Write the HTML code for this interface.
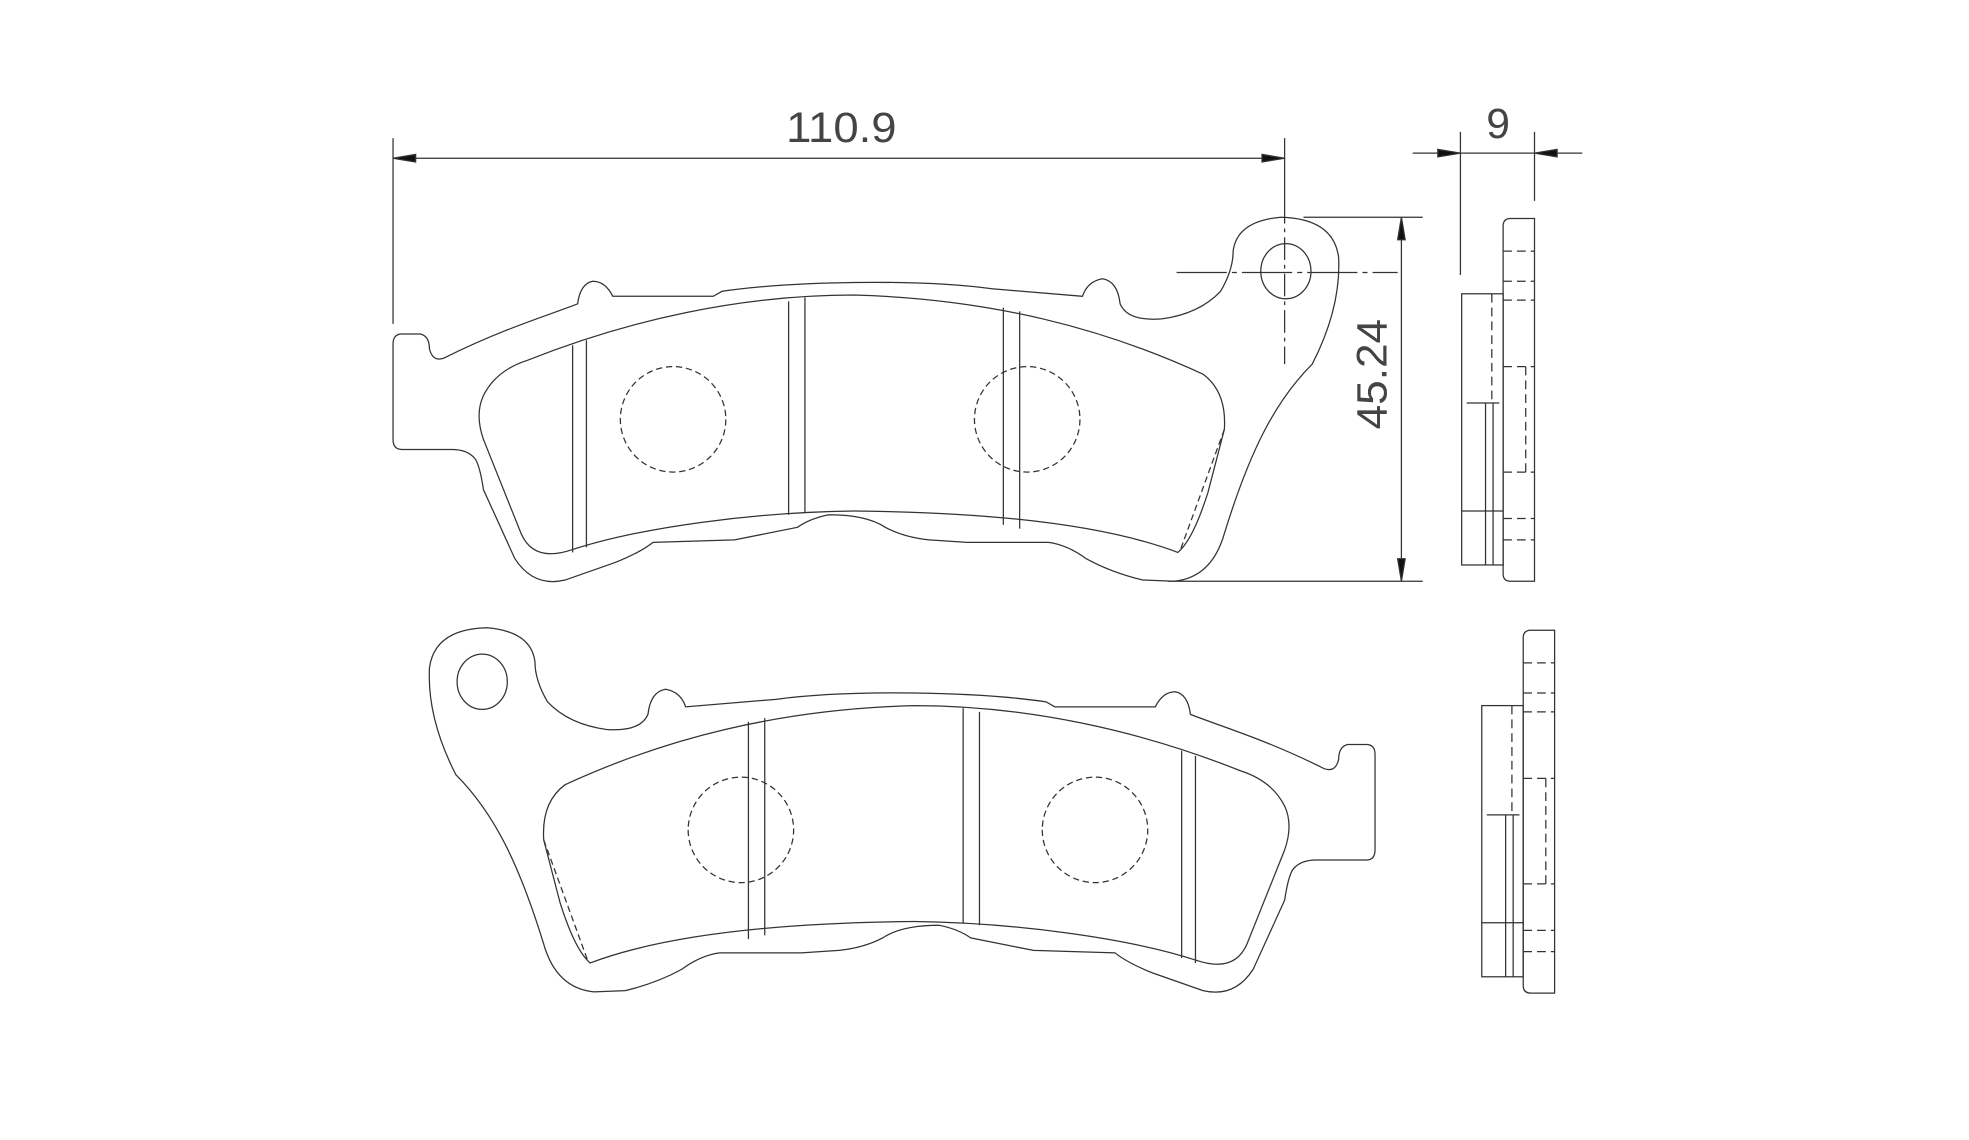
<!DOCTYPE html>
<html><head><meta charset="utf-8"><style>html,body{margin:0;padding:0;background:#fff}svg{display:block}</style></head>
<body>
<svg width="1969" height="1140" viewBox="0 0 1568 908" preserveAspectRatio="none" xmlns="http://www.w3.org/2000/svg" fill="none" stroke="#333" stroke-width="1">
<defs>
<g id="pad">
<path d="M320,266 L335,266 Q342,268 342,278 Q345,290 356,284 C400,262 440,250 460,242 Q462,226 472,224 Q482,224 488,236 L568,236 L575,232 C630,224 730,222 790,230 L862,236 Q866,224 878,222 Q890,224 892,242 Q898,256 925,254 Q955,250 972,232 Q982,215 982,200 Q985,176 1020,173 Q1062,174 1066,205 Q1068,245 1045,290 C1015,320 995,360 975,425 Q965,460 935,463 L910,462 Q885,456 865,445 Q850,434 835,432 L770,432 L740,430 Q720,428 705,420 Q690,410 660,410 Q645,413 635,420 L585,430 L520,432 Q510,440 490,448 L450,462 Q425,468 410,445 L385,390 Q382,370 378,365 Q372,358 360,358 L320,358 Q313,358 313,350 L313,274 Q313,266 320,266 Z"/>
<path d="M385,315 Q395,295 420,287 C500,255 590,235 680,235 C790,238 880,262 958,298 Q977,312 975,342 L962,392 Q950,430 938,440 C880,418 790,408 680,407 C600,408 510,420 455,438 Q425,448 415,425 L385,350 Q378,330 385,315 Z"/>
<path d="M975,342 L940,438" stroke-dasharray="5,3"/>
<line x1="456" y1="275" x2="456" y2="440"/><line x1="467" y1="271" x2="467" y2="436"/>
<line x1="628" y1="240" x2="628" y2="410"/><line x1="641" y1="237" x2="641" y2="408"/>
<line x1="799" y1="245" x2="799" y2="418"/><line x1="812" y1="248" x2="812" y2="421"/>
<circle cx="536" cy="334" r="42" stroke-dasharray="5,3"/>
<circle cx="818" cy="334" r="42" stroke-dasharray="5,3"/>
<ellipse cx="1024" cy="216" rx="20" ry="22"/>
</g>
<g id="side">
<path d="M1203,174 L1222,174 L1222,463 L1203,463 Q1197,463 1197,457 L1197,180 Q1197,174 1203,174 Z"/>
<g stroke-dasharray="7,4">
<line x1="1197" y1="200" x2="1222" y2="200"/><line x1="1197" y1="224" x2="1222" y2="224"/>
<line x1="1197" y1="239" x2="1222" y2="239"/><line x1="1197" y1="292" x2="1222" y2="292"/>
<line x1="1197" y1="376" x2="1222" y2="376"/><line x1="1197" y1="413" x2="1222" y2="413"/>
<line x1="1197" y1="430" x2="1222" y2="430"/><line x1="1215" y1="292" x2="1215" y2="376"/>
<line x1="1188" y1="234" x2="1188" y2="321"/>
</g>
<rect x="1164" y="234" width="33" height="216"/>
<line x1="1168" y1="321" x2="1194" y2="321"/>
<line x1="1183" y1="321" x2="1183" y2="450"/><line x1="1189" y1="321" x2="1189" y2="450"/>
<line x1="1164" y1="407" x2="1197" y2="407"/>
</g>
</defs>
<use href="#pad"/>
<use href="#pad" transform="translate(1408,327) scale(-1,1)"/>
<use href="#side"/>
<use href="#side" transform="translate(16,328)"/>
<!-- dims -->
<line x1="313" y1="110" x2="313" y2="258"/>
<line x1="1023" y1="110" x2="1023" y2="160"/>
<line x1="1023" y1="160" x2="1023" y2="290" stroke-dasharray="18,4,3,4"/>
<line x1="937" y1="217" x2="1113" y2="217" stroke-dasharray="40,4,4,4"/>
<line x1="313" y1="126" x2="1023" y2="126"/>
<polygon points="313,126 331,123 331,129" fill="#111"/>
<polygon points="1023,126 1005,123 1005,129" fill="#111"/>
<text x="670" y="113" font-family="Liberation Sans, sans-serif" font-size="34" fill="#444" stroke="none" text-anchor="middle" textLength="88" lengthAdjust="spacingAndGlyphs" font-weight="300">110.9</text>
<line x1="1038" y1="173" x2="1133" y2="173"/>
<line x1="930" y1="463" x2="1133" y2="463"/>
<line x1="1116" y1="173" x2="1116" y2="463"/>
<polygon points="1116,173 1113,191 1119,191" fill="#111"/>
<polygon points="1116,463 1113,445 1119,445" fill="#111"/>
<text transform="translate(1104,298) rotate(-90)" font-family="Liberation Sans, sans-serif" font-size="34" fill="#444" stroke="none" text-anchor="middle" textLength="88" lengthAdjust="spacingAndGlyphs">45.24</text>
<line x1="1163" y1="105" x2="1163" y2="219"/>
<line x1="1222" y1="105" x2="1222" y2="160"/>
<line x1="1125" y1="122" x2="1260" y2="122"/>
<polygon points="1163,122 1145,119 1145,125" fill="#111"/>
<polygon points="1222,122 1240,119 1240,125" fill="#111"/>
<text x="1193" y="110" font-family="Liberation Sans, sans-serif" font-size="34" fill="#444" stroke="none" text-anchor="middle">9</text>
</svg>
</body></html>
